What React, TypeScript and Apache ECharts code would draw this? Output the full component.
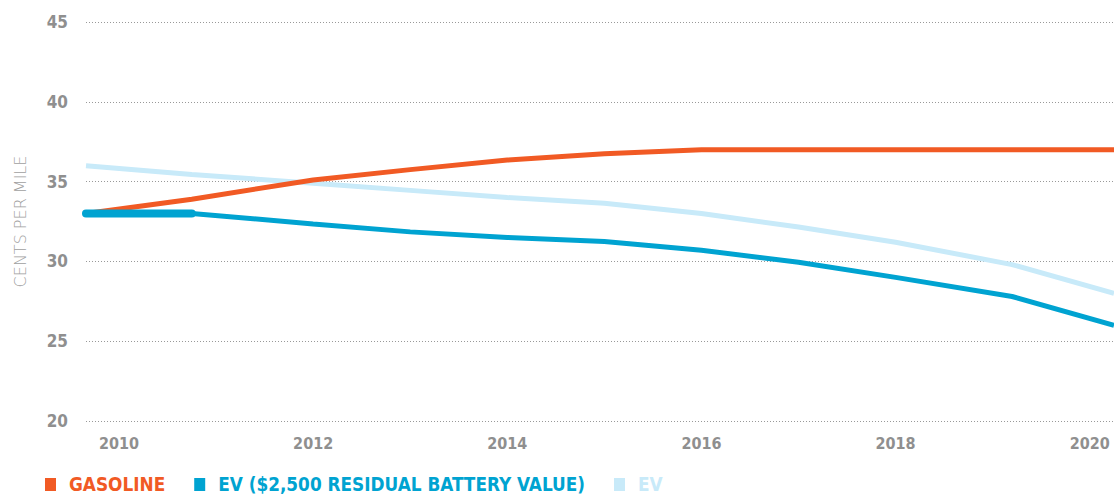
import React, { useEffect, useRef } from "react";
import * as echarts from "echarts";

const years = [2009.66, 2010.75, 2012, 2013, 2014, 2015, 2016, 2017, 2018, 2019.2, 2020.25];
const gasoline = [33.0, 33.9, 35.1, 35.75, 36.35, 36.75, 37.0, 37.0, 37.0, 37.0, 37.0];
const evResidual = [33.0, 33.0, 32.35, 31.85, 31.5, 31.25, 30.7, 29.95, 29.0, 27.8, 26.0];
const ev = [36.0, 35.45, 34.9, 34.45, 34.0, 33.65, 33.0, 32.15, 31.2, 29.8, 28.0];
const xTicks = [2010, 2012, 2014, 2016, 2018, 2020];
const seriesNames = ["GASOLINE", "EV ($2,500 RESIDUAL BATTERY VALUE)", "EV"];
const colors = ["#F15A24", "#00A3D1", "#C8EAF9"];

export default function App() {
  const ref = useRef<HTMLDivElement>(null);
  useEffect(() => {
    const chart = echarts.init(ref.current!, null, { renderer: "svg" });
    const pair = (vals: number[]) => years.map((y, i) => [y, vals[i]]);
    const all = [gasoline, evResidual, ev];
    const order = [2, 1, 0];
    const series: any[] = order.map((i) => ({
      name: seriesNames[i],
      type: "line",
      data: pair(all[i]),
      showSymbol: false,
      symbol: "none",
      lineStyle: { width: 5, color: colors[i] },
      itemStyle: { color: colors[i] },
      z: 3 - i,
    }));
    series.push({
      name: seriesNames[1],
      type: "line",
      data: pair(evResidual).slice(0, 2),
      showSymbol: false,
      symbol: "none",
      lineStyle: { width: 8, color: colors[1], cap: "round" },
      itemStyle: { color: colors[1] },
      z: 4,
    });
    chart.setOption({
      animation: false,
      grid: { left: 86, right: 0, top: 22, bottom: 75 },
      legend: {
        left: 40,
        top: 470,
        icon: "rect",
        itemWidth: 11,
        itemHeight: 13,
        itemGap: 29,
        data: seriesNames.map((n, i) => ({
          name: n,
          textStyle: {
            color: colors[i],
            fontFamily: "DejaVu Sans Condensed",
            fontWeight: "bold",
            fontSize: 18.8,
            padding: [0, 0, 0, 8],
          },
        })),
      },
      xAxis: {
        type: "value",
        min: 2009.66,
        max: 2020.25,
        axisLine: { show: false },
        axisTick: { show: false },
        splitLine: { show: false },
        axisLabel: {
          customValues: xTicks,
          formatter: (v: number) => String(v),
          color: "#8f8f8f",
          fontFamily: "DejaVu Sans Condensed",
          fontWeight: "bold",
          fontSize: 16,
          margin: 14,
        },
      },
      yAxis: {
        type: "value",
        min: 20,
        max: 45,
        interval: 5,
        name: "CENTS PER MILE",
        nameLocation: "middle",
        nameGap: 58,
        nameRotate: 90,
        nameTextStyle: {
          color: "#a0a0a0",
          fontFamily: "DejaVu Sans",
          fontWeight: "lighter",
          fontSize: 16,
        },
        axisLine: { show: false },
        axisTick: { show: false },
        axisLabel: {
          color: "#8f8f8f",
          fontFamily: "DejaVu Sans Condensed",
          fontWeight: "bold",
          fontSize: 17,
          margin: 18,
        },
        splitLine: { lineStyle: { type: [1, 2], color: "#999999", width: 1 } },
      },
      series,
    });
    return () => chart.dispose();
  }, []);
  return (
    <div
      ref={ref}
      style={{ position: "fixed", left: 0, top: 0, width: 1114, height: 496, background: "#fff" }}
    />
  );
}
